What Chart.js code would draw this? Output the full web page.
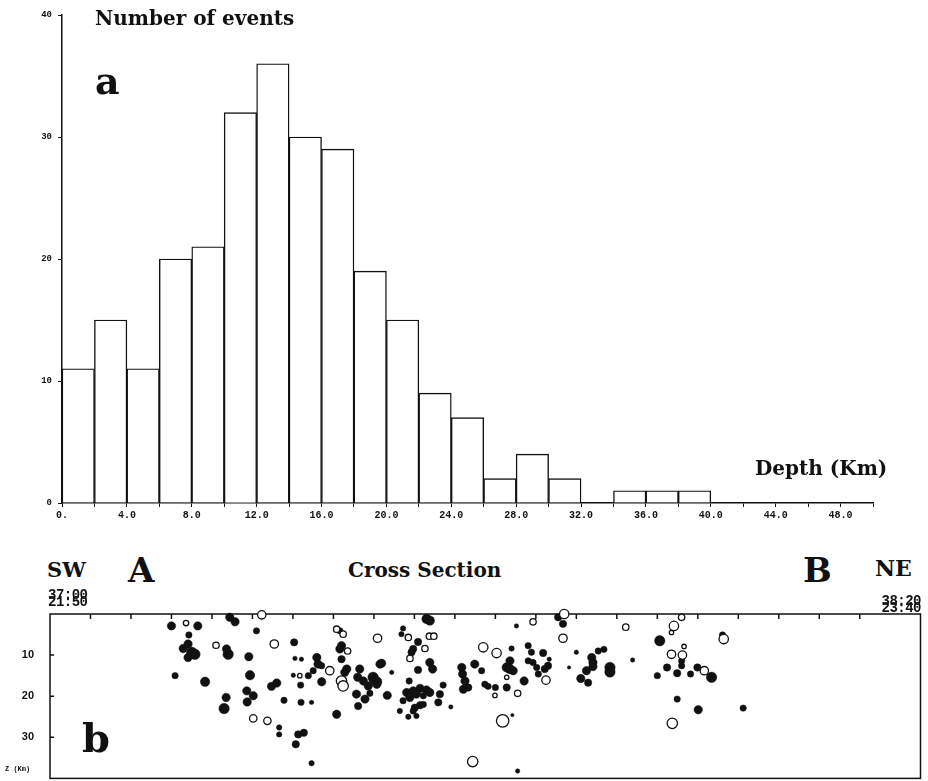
<!DOCTYPE html>
<html>
<head>
<meta charset="utf-8">
<script src="https://cdn.jsdelivr.net/npm/chart.js@4"></script>
<style>
  html, body { margin: 0; padding: 0; background: #fff; }
  #wrap { position: relative; width: 928px; height: 781px; overflow: hidden; }
  canvas { position: absolute; left: 0; }
  .t { position: absolute; white-space: nowrap; line-height: 1; color: #111; font-family: "DejaVu Serif", serif; font-weight: bold; }
  .m { position: absolute; white-space: nowrap; line-height: 1; color: #111; font-family: "Liberation Mono", monospace; font-weight: bold; }
</style>
</head>
<body>
<div id="wrap">
  <canvas id="hist" width="928" height="530" style="top:0"></canvas>
  <canvas id="sect" width="928" height="197" style="top:590px"></canvas>

  <span class="t" style="left:95px;top:8px;font-size:20px">Number of events</span>
  <span class="t" style="left:95px;top:62px;font-size:38px">a</span>
  <span class="t" style="left:755px;top:458px;font-size:20px">Depth (Km)</span>

  <span class="t" style="left:47px;top:559px;font-size:21px">SW</span>
  <span class="t" style="left:128px;top:553px;font-size:34px">A</span>
  <span class="t" style="left:348px;top:560px;font-size:20px">Cross Section</span>
  <span class="t" style="left:803px;top:553px;font-size:34px">B</span>
  <span class="t" style="left:875px;top:557px;font-size:22px">NE</span>
  <span class="t" style="left:82px;top:718px;font-size:40px">b</span>

  <span class="m" style="left:48px;top:588px;font-size:14px;letter-spacing:-0.5px">37:00</span>
  <span class="m" style="left:48px;top:595px;font-size:14px;letter-spacing:-0.5px">21:50</span>
  <span class="m" style="right:7px;top:594px;font-size:14px;letter-spacing:-0.5px">38:20</span>
  <span class="m" style="right:7px;top:601px;font-size:14px;letter-spacing:-0.5px">23:40</span>
  <span class="m" style="left:5px;top:766px;font-size:7px">Z (Km)</span>
</div>

<script>
// histogram: depth bins (km, lower edge) and number of events
var binStart = [0, 2, 4, 6, 8, 10, 12, 14, 16, 18, 20, 22, 24, 26, 28, 30, 32, 34, 36, 38];
var counts = [11, 15, 11, 20, 21, 32, 36, 30, 29, 19, 15, 9, 7, 2, 4, 2, 0, 1, 1, 1];

// cross section A-B: distance along profile (km), depth (km), magnitude
var filledX = [30.0, 36.5, 44.4, 45.7, 51.0, 34.3, 32.9, 34.1, 35.0, 35.8, 34.1, 44.0, 43.6, 60.3, 49.1, 30.9, 38.3, 49.4, 43.5, 43.0,
  48.6, 50.2, 48.7, 54.7, 56.0, 57.8, 62.0, 64.6, 61.9, 56.6, 56.6, 61.3, 62.7, 60.7, 64.6, 60.5, 62.1, 65.9, 66.2, 67.1,
  65.0, 63.8, 60.1, 67.1, 70.8, 71.6, 72.0, 71.6, 72.0, 73.3, 72.8, 76.0, 76.5, 77.4, 78.6, 75.7, 77.8, 76.1, 79.8, 80.7,
  81.5, 93.0, 93.8, 87.2, 86.8, 90.9, 89.7, 89.3, 93.8, 94.5, 81.9, 84.4, 90.9, 79.8, 80.7, 79.0, 83.3, 88.7, 88.1, 89.7,
  91.4, 93.0, 93.8, 88.9, 90.5, 87.2, 92.2, 91.4, 90.1, 92.2, 89.7, 86.4, 88.5, 90.5, 95.9, 96.3, 97.1, 99.0, 101.7, 101.9,
  102.5, 102.1, 103.3, 104.9, 106.6, 107.4, 108.2, 110.0, 112.8, 112.8, 113.6, 114.4, 113.6, 114.0, 115.2, 118.1, 118.9, 118.1, 119.3, 117.1,
  121.8, 123.0, 122.2, 120.2, 120.6, 123.3, 125.5, 126.7, 130.0, 128.2, 133.8, 134.1, 132.5, 131.1, 132.9, 135.4, 114.2, 115.5, 136.8, 134.1,
  138.3, 138.3, 143.9, 150.6, 156.0, 156.0, 152.4, 154.9, 150.0, 158.2, 159.9, 163.4, 166.1, 154.9, 160.1, 171.2];
var filledDepth = [2.9, 2.9, 0.8, 1.9, 4.1, 5.1, 8.4, 7.3, 9.3, 9.8, 10.6, 9.8, 8.5, 6.9, 10.4, 15.0, 16.5, 14.9, 20.3, 23.0,
  18.7, 19.9, 21.4, 17.6, 16.8, 21.0, 21.5, 21.5, 17.3, 27.6, 29.3, 29.3, 28.9, 31.7, 36.3, 10.8, 11.0, 10.6, 12.2, 12.6,
  13.8, 15.0, 14.9, 16.5, 24.4, 4.1, 7.7, 8.5, 11.0, 13.4, 14.2, 15.4, 13.4, 16.3, 17.5, 19.5, 20.7, 22.4, 15.9, 17.1,
  12.2, 1.2, 1.6, 3.5, 4.9, 6.8, 8.5, 9.3, 11.8, 13.4, 12.0, 14.2, 13.6, 15.4, 16.5, 19.3, 19.8, 16.3, 19.1, 18.7,
  18.1, 18.5, 19.1, 20.3, 19.5, 21.1, 19.9, 22.2, 22.8, 22.0, 23.6, 23.6, 25.0, 24.8, 21.5, 19.5, 17.3, 22.6, 13.0, 14.6,
  16.3, 18.3, 17.9, 12.2, 13.8, 17.1, 17.6, 17.9, 17.9, 13.0, 13.4, 13.8, 11.4, 8.4, 2.9, 7.7, 9.3, 11.4, 11.8, 16.3,
  9.5, 12.6, 13.4, 13.0, 14.6, 11.0, 0.8, 2.4, 9.3, 13.0, 10.6, 11.8, 13.8, 15.7, 16.7, 9.0, 24.6, 38.2, 8.6, 12.8,
  13.0, 14.1, 11.2, 6.5, 11.4, 12.6, 13.0, 14.4, 15.0, 14.6, 13.0, 15.4, 5.1, 20.7, 23.3, 22.9];
var filledMag = [3.0, 3.0, 3.0, 3.0, 2.5, 2.5, 3.0, 3.0, 3.5, 3.5, 3.0, 3.5, 3.0, 2.75, 3.0, 2.5, 3.25, 3.25, 3.0, 3.5,
  3.0, 3.0, 3.0, 3.0, 3.0, 2.5, 2.5, 2.0, 2.5, 2.25, 2.25, 2.75, 2.75, 2.75, 2.25, 2.0, 2.0, 3.0, 3.0, 2.5,
  2.5, 2.5, 2.0, 3.0, 3.0, 2.5, 3.0, 3.0, 2.75, 3.0, 3.0, 3.0, 3.0, 3.0, 3.0, 3.0, 3.0, 2.75, 3.0, 3.0,
  3.0, 3.25, 3.25, 2.25, 2.25, 2.75, 2.75, 2.75, 3.0, 3.0, 3.0, 2.0, 2.75, 3.5, 3.5, 2.5, 3.0, 2.5, 3.0, 3.0,
  3.0, 3.0, 3.0, 3.0, 3.0, 2.5, 2.5, 2.75, 2.75, 2.5, 2.5, 2.25, 2.25, 2.25, 2.75, 2.75, 2.5, 2.0, 3.0, 3.0,
  3.0, 3.0, 2.75, 3.0, 2.5, 2.5, 2.5, 2.5, 2.75, 3.25, 3.25, 3.0, 3.0, 2.25, 2.0, 2.5, 2.5, 2.5, 2.5, 3.0,
  2.75, 2.75, 2.75, 2.5, 2.5, 2.0, 2.75, 2.75, 2.0, 1.75, 3.0, 3.0, 3.0, 3.0, 2.75, 2.5, 1.75, 2.0, 2.5, 3.0,
  3.5, 3.5, 2.0, 3.5, 2.5, 2.5, 2.75, 2.75, 2.5, 2.5, 2.75, 3.5, 2.5, 2.5, 3.0, 2.5];

var openX = [33.6, 52.3, 41.0, 55.4, 61.7, 69.1, 70.8, 72.4, 73.5, 72.0, 72.4, 50.2, 53.7, 80.9, 88.5, 93.7, 94.8, 92.6, 88.9, 107.0,
  110.3, 109.9, 112.8, 119.3, 115.5, 122.5, 127.0, 126.7, 111.8, 104.4, 142.2, 154.1, 153.5, 156.0, 156.6, 153.5, 156.2, 161.6, 166.4, 153.7];
var openDepth = [2.2, 0.2, 7.6, 7.3, 15.0, 13.8, 3.7, 4.9, 9.0, 16.3, 17.5, 25.4, 26.0, 5.9, 5.7, 5.4, 5.4, 8.4, 10.8, 8.1,
  9.5, 19.8, 15.4, 1.9, 19.3, 16.1, 0.0, 5.9, 26.0, 35.9, 3.2, 2.9, 4.5, 0.8, 7.9, 9.8, 10.0, 13.8, 6.1, 26.6];
var openMag = [2.25, 3.0, 2.5, 3.0, 2.0, 3.0, 2.5, 2.5, 2.5, 3.5, 3.5, 2.75, 2.75, 3.0, 2.5, 2.5, 2.5, 2.5, 2.5, 3.25,
  3.25, 2.0, 2.0, 2.5, 2.5, 3.0, 3.25, 3.0, 4.0, 3.5, 2.5, 3.25, 2.0, 2.5, 2.0, 3.0, 3.0, 3.0, 3.25, 3.5];

var ink = '#111';

function magToRadius(m) {
	return 2 * m - 1.8;
}

// --- panel a: histogram of focal depths ---
var histData = binStart.map(function(x0, i) { return {x: x0 + 1, y: counts[i]}; });

new Chart(document.getElementById('hist').getContext('2d'), {
	type: 'bar',
	data: {
		datasets: [{
			data: histData,
			backgroundColor: '#fff',
			borderColor: ink,
			borderWidth: 1.4,
			barPercentage: 1,
			categoryPercentage: 1
		}]
	},
	options: {
		responsive: false,
		animation: false,
		layout: {padding: {top: 15, right: 55, left: 0, bottom: 0}},
		plugins: {legend: {display: false}, tooltip: {enabled: false}},
		scales: {
			x: {
				type: 'linear',
				min: 0,
				max: 50,
				offset: false,
				afterFit: function(s) { s.height = 27; },
				border: {display: true, color: ink, width: 1.5},
				grid: {display: true, drawOnChartArea: false, drawTicks: true, tickLength: 4, color: ink, offset: false},
				ticks: {
					stepSize: 2,
					autoSkip: false,
					maxRotation: 0,
					padding: 2,
					color: ink,
					font: {family: 'Liberation Mono', weight: 'bold', size: 10},
					callback: function(v) {
						if (v === 0) return '0.';
						return v % 4 === 0 ? v.toFixed(1) : '';
					}
				}
			},
			y: {
				min: 0,
				max: 40,
				afterFit: function(s) { s.width = 62; },
				border: {display: true, color: ink, width: 1.5},
				grid: {display: true, drawOnChartArea: false, drawTicks: true, tickLength: 4, color: ink},
				ticks: {
					stepSize: 10,
					padding: 6,
					color: ink,
					font: {family: 'Liberation Mono', weight: 'bold', size: 9}
				}
			}
		}
	}
});

// --- panel b: cross section ---
var boxPlugin = {
	id: 'box',
	beforeDatasetsDraw: function(chart) {
		var c = chart.ctx, a = chart.chartArea, sx = chart.scales.x, sy = chart.scales.y;
		c.save();
		c.strokeStyle = ink;
		c.lineWidth = 1.5;
		c.strokeRect(a.left, a.top, a.right - a.left, a.bottom - a.top);
		c.beginPath();
		sx.ticks.forEach(function(t) {
			if (t.value % 10 !== 0 || t.value === 0) return;
			var px = sx.getPixelForValue(t.value);
			c.moveTo(px, a.top);
			c.lineTo(px, a.top + 5);
		});
		sy.ticks.forEach(function(t) {
			if (t.value === 0 || t.value === 40) return;
			var py = sy.getPixelForValue(t.value);
			c.moveTo(a.left, py);
			c.lineTo(a.left + 4, py);
		});
		c.stroke();
		c.restore();
	}
};

function points(xs, ds) {
	return xs.map(function(x, i) { return {x: x, y: ds[i]}; });
}

new Chart(document.getElementById('sect').getContext('2d'), {
	type: 'scatter',
	data: {
		datasets: [{
			data: points(openX, openDepth),
			pointRadius: openMag.map(magToRadius),
			pointBackgroundColor: '#fff',
			pointBorderColor: ink,
			pointBorderWidth: 1.3,
			clip: false,
			order: 0
		}, {
			data: points(filledX, filledDepth),
			pointRadius: filledMag.map(magToRadius),
			pointBackgroundColor: ink,
			pointBorderColor: ink,
			pointBorderWidth: 0.5,
			clip: false,
			order: 1
		}]
	},
	options: {
		responsive: false,
		animation: false,
		layout: {padding: {top: 0, right: 7, left: 0, bottom: 8}},
		plugins: {legend: {display: false}, tooltip: {enabled: false}},
		scales: {
			x: {
				type: 'linear',
				position: 'top',
				min: 0,
				max: 215,
				afterFit: function(s) { s.height = 24; },
				border: {display: false},
				grid: {display: false},
				ticks: {display: false, stepSize: 10}
			},
			y: {
				reverse: true,
				min: 0,
				max: 40,
				afterFit: function(s) { s.width = 50; },
				border: {display: false},
				grid: {display: true, drawOnChartArea: false, drawTicks: true, tickLength: 14, color: 'rgba(0,0,0,0)'},
				ticks: {
					stepSize: 10,
					padding: 2,
					color: ink,
					font: {family: 'Liberation Sans', weight: 'bold', size: 11},
					callback: function(v) { return (v === 0 || v === 40) ? '' : String(v); }
				}
			}
		}
	},
	plugins: [boxPlugin]
});
</script>
</body>
</html>
